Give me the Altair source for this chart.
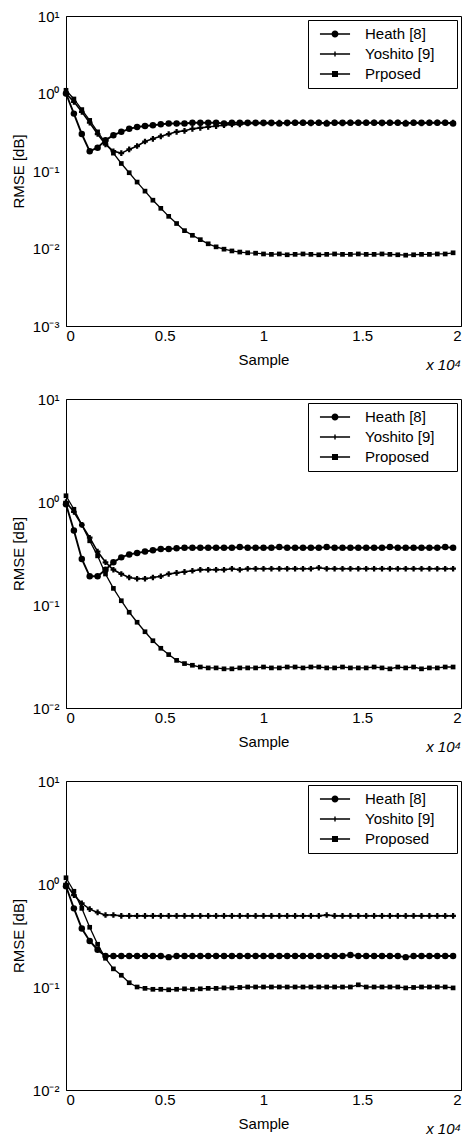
import altair as alt
import pandas as pd

SAMPLES = [0, 400, 800, 1200, 1600, 2000, 2400, 2800, 3200, 3600,
           4000, 4400, 4800, 5200, 5600, 6000, 6400, 6800, 7200, 7600,
           8000, 8400, 8800, 9200, 9600, 10000, 10400, 10800, 11200, 11600,
           12000, 12400, 12800, 13200, 13600, 14000, 14400, 14800, 15200, 15600,
           16000, 16400, 16800, 17200, 17600, 18000, 18400, 18800, 19200, 19600]

LABELS_1 = ["Heath [8]", "Yoshito [9]", "Prposed"]
LABELS_23 = ["Heath [8]", "Yoshito [9]", "Proposed"]

HEATH_1 = [1.00, 0.55, 0.30, 0.18, 0.20, 0.25, 0.29, 0.32, 0.35, 0.37,
           0.38, 0.39, 0.40, 0.41, 0.41, 0.41, 0.42, 0.42, 0.42, 0.42,
           0.41, 0.42, 0.42, 0.42, 0.42, 0.42, 0.42, 0.41, 0.42, 0.42,
           0.42, 0.42, 0.42, 0.41, 0.42, 0.42, 0.42, 0.42, 0.42, 0.42,
           0.42, 0.42, 0.42, 0.41, 0.42, 0.42, 0.42, 0.42, 0.42, 0.41]
YOSHITO_1 = [1.00, 0.78, 0.58, 0.42, 0.30, 0.22, 0.18, 0.17, 0.19, 0.21,
             0.24, 0.26, 0.28, 0.30, 0.32, 0.33, 0.35, 0.36, 0.37, 0.38,
             0.39, 0.40, 0.40, 0.41, 0.41, 0.41, 0.41, 0.42, 0.41, 0.42,
             0.42, 0.41, 0.42, 0.42, 0.42, 0.41, 0.42, 0.42, 0.42, 0.42,
             0.41, 0.42, 0.42, 0.42, 0.42, 0.41, 0.42, 0.42, 0.42, 0.42]
PROPOSED_1 = [1.10, 0.85, 0.62, 0.45, 0.32, 0.23, 0.17, 0.125, 0.095, 0.072,
              0.055, 0.042, 0.033, 0.026, 0.021, 0.017, 0.0148, 0.013, 0.0115, 0.0105,
              0.0098, 0.0093, 0.0090, 0.0088, 0.0087, 0.0085, 0.0084, 0.0085, 0.0083, 0.0084,
              0.0085, 0.0084, 0.0083, 0.0084, 0.0085, 0.0084, 0.0084, 0.0085, 0.0084, 0.0084,
              0.0085, 0.0084, 0.0083, 0.0082, 0.0083, 0.0084, 0.0084, 0.0085, 0.0085, 0.0088]

HEATH_2 = [0.95, 0.53, 0.28, 0.19, 0.19, 0.22, 0.26, 0.29, 0.31, 0.32,
           0.33, 0.34, 0.35, 0.35, 0.355, 0.36, 0.36, 0.36, 0.36, 0.36,
           0.36, 0.36, 0.365, 0.36, 0.36, 0.36, 0.36, 0.365, 0.36, 0.36,
           0.36, 0.36, 0.36, 0.365, 0.36, 0.36, 0.36, 0.36, 0.36, 0.36,
           0.36, 0.365, 0.36, 0.36, 0.36, 0.36, 0.36, 0.36, 0.365, 0.36]
YOSHITO_2 = [1.00, 0.80, 0.60, 0.45, 0.33, 0.26, 0.22, 0.20, 0.185, 0.18,
             0.18, 0.185, 0.19, 0.20, 0.205, 0.21, 0.215, 0.22, 0.22, 0.22,
             0.22, 0.225, 0.22, 0.225, 0.225, 0.225, 0.225, 0.225, 0.225, 0.225,
             0.225, 0.225, 0.23, 0.225, 0.225, 0.225, 0.225, 0.225, 0.225, 0.225,
             0.225, 0.225, 0.225, 0.225, 0.225, 0.225, 0.225, 0.225, 0.225, 0.225]
PROPOSED_2 = [1.15, 0.85, 0.60, 0.42, 0.30, 0.20, 0.145, 0.11, 0.085, 0.068,
              0.055, 0.045, 0.038, 0.033, 0.029, 0.027, 0.026, 0.025, 0.0245, 0.0245,
              0.024, 0.024, 0.0245, 0.0245, 0.0245, 0.025, 0.0245, 0.0245, 0.025, 0.025,
              0.0245, 0.025, 0.025, 0.0245, 0.0245, 0.025, 0.0245, 0.0245, 0.0245, 0.025,
              0.0245, 0.024, 0.025, 0.0245, 0.025, 0.024, 0.0245, 0.0245, 0.025, 0.025]

HEATH_3 = [0.95, 0.58, 0.37, 0.28, 0.23, 0.20, 0.20, 0.20, 0.20, 0.20,
           0.20, 0.20, 0.20, 0.195, 0.20, 0.20, 0.20, 0.20, 0.20, 0.20,
           0.20, 0.20, 0.20, 0.20, 0.20, 0.20, 0.20, 0.20, 0.20, 0.20,
           0.20, 0.20, 0.20, 0.20, 0.20, 0.20, 0.205, 0.20, 0.20, 0.20,
           0.20, 0.20, 0.20, 0.195, 0.20, 0.20, 0.20, 0.20, 0.20, 0.20]
YOSHITO_3 = [1.00, 0.78, 0.65, 0.57, 0.53, 0.50, 0.50, 0.49, 0.49, 0.49,
             0.49, 0.49, 0.49, 0.49, 0.49, 0.49, 0.49, 0.49, 0.49, 0.49,
             0.49, 0.49, 0.49, 0.49, 0.49, 0.49, 0.49, 0.49, 0.49, 0.49,
             0.49, 0.49, 0.49, 0.50, 0.49, 0.49, 0.49, 0.49, 0.49, 0.49,
             0.49, 0.49, 0.49, 0.49, 0.49, 0.49, 0.49, 0.49, 0.49, 0.49]
PROPOSED_3 = [1.15, 0.85, 0.58, 0.38, 0.26, 0.19, 0.15, 0.13, 0.11, 0.10,
              0.097, 0.095, 0.095, 0.094, 0.095, 0.096, 0.095, 0.096, 0.097, 0.097,
              0.098, 0.098, 0.099, 0.10, 0.10, 0.10, 0.10, 0.10, 0.10, 0.10,
              0.10, 0.10, 0.10, 0.10, 0.10, 0.10, 0.10, 0.105, 0.10, 0.10,
              0.10, 0.10, 0.10, 0.098, 0.099, 0.10, 0.10, 0.10, 0.10, 0.098]

X_TICKS = [0, 5000, 10000, 15000, 20000]
FONT = "Liberation Sans"

Y_LABEL_EXPR = ("datum.value > 5 ? '10\u00b9' : datum.value > 0.5 ? '10\u2070' : "
                "datum.value > 0.05 ? '10\u207b\u00b9' : datum.value > 0.005 ? '10\u207b\u00b2' : '10\u207b\u00b3'")

# legend glyphs: a short line (thin filled bar) with the series marker in the middle
BAR = "M-2.15,-0.11H2.15V0.11H-2.15Z"
P_HEATH = BAR + "M0.5,0A0.5,0.5,0,1,1,-0.5,0A0.5,0.5,0,1,1,0.5,0Z"
P_YOSH = BAR + "M-0.1,-0.34H0.1V-0.1H0.34V0.1H0.1V0.34H-0.1V0.1H-0.34V-0.1H-0.1Z"
P_PROP = BAR + "M-0.43,-0.43H0.43V0.43H-0.43Z"


def panel(series, labels, ymin, yticks, height):
    rows = []
    for name, vals in zip(labels, series):
        for s, v in zip(SAMPLES, vals):
            rows.append({"sample": s, "rmse": v, "method": name})
    df = pd.DataFrame(rows)

    x = alt.X("sample:Q", title="Sample",
              scale=alt.Scale(domain=[0, 20000], nice=False, zero=False),
              axis=alt.Axis(values=X_TICKS, labelExpr="datum.value / 10000",
                            labelPadding=2, titlePadding=9))
    y = alt.Y("rmse:Q", title="RMSE [dB]",
              scale=alt.Scale(type="log", domain=[ymin, 10], nice=False),
              axis=alt.Axis(values=yticks, labelExpr=Y_LABEL_EXPR,
                            labelPadding=7, titlePadding=6))
    base = alt.Chart(df).encode(x=x, y=y)
    lines = base.mark_line(color="black").encode(
        detail="method:N",
        strokeWidth=alt.StrokeWidth("method:N", scale=alt.Scale(domain=labels, range=[1.9, 1.3, 1.9]),
                                    legend=None),
    )
    pts = base.mark_point(filled=True, color="black", opacity=1).encode(
        shape=alt.Shape("method:N",
                        scale=alt.Scale(domain=labels, range=["circle", "cross", "square"]),
                        legend=None),
        size=alt.Size("method:N", scale=alt.Scale(domain=labels, range=[42, 22, 34]), legend=None),
    )
    leg = base.mark_point(filled=True, color="black", opacity=1).encode(
        shape=alt.Shape("method:N",
                        scale=alt.Scale(domain=labels, range=[P_HEATH, P_YOSH, P_PROP]),
                        legend=alt.Legend(
                            title=".", titleOrient="right", titleOpacity=0, titlePadding=12,
                            titleFontSize=15, titleFont=FONT,
                            orient="top-right", offset=4, padding=6,
                            strokeColor="black", fillColor="white",
                            labelFont=FONT, labelFontSize=15, labelColor="black",
                            symbolSize=196, symbolOffset=13, labelOffset=22, rowPadding=4,
                            symbolFillColor="black", symbolOpacity=1,
                        )),
    ).transform_filter("datum.rmse < 0")
    return alt.layer(lines, pts, leg).resolve_scale(shape="independent").resolve_legend(
        shape="independent"
    ).properties(
        width=395, height=height,
        title=alt.TitleParams("x 10\u2074", orient="bottom", anchor="end", font=FONT,
                              fontSize=15, fontWeight="normal", fontStyle="italic",
                              color="black", offset=-9),
    )


p1 = panel([HEATH_1, YOSHITO_1, PROPOSED_1], LABELS_1, 0.001, [10, 1, 0.1, 0.01, 0.001], 310)
p2 = panel([HEATH_2, YOSHITO_2, PROPOSED_2], LABELS_23, 0.01, [10, 1, 0.1, 0.01], 309)
p3 = panel([HEATH_3, YOSHITO_3, PROPOSED_3], LABELS_23, 0.01, [10, 1, 0.1, 0.01], 309)

chart = alt.vconcat(p1, p2, p3, spacing=17).resolve_scale(
    shape="independent", size="independent", strokeWidth="independent"
).resolve_legend(shape="independent").properties(
    padding={"left": 2, "top": 0, "right": 0, "bottom": 0}
).configure_view(stroke="black", strokeWidth=1).configure_axis(
    labelFont=FONT, titleFont=FONT, labelFontSize=15, titleFontSize=15,
    labelColor="black", titleColor="black", titleFontWeight="normal",
    domainColor="black", grid=False, ticks=False,
)

chart.save("out.html", embed_options={"renderer": "svg", "actions": False})
